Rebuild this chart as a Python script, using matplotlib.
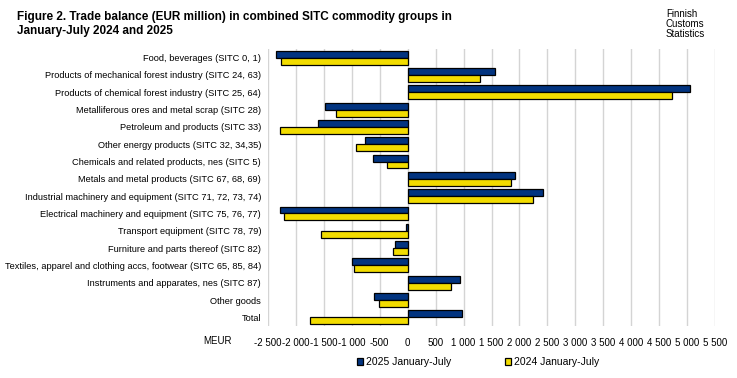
import matplotlib
matplotlib.use('Agg')
from matplotlib import pyplot as plt
from matplotlib.ticker import FuncFormatter
import numpy as np

plt.rcParams['font.family'] = ['Liberation Sans', 'DejaVu Sans']

categories = [
    'Food, beverages (SITC 0, 1)',
    'Products of mechanical forest industry (SITC 24, 63)',
    'Products of chemical forest industry (SITC 25, 64)',
    'Metalliferous ores and metal scrap (SITC 28)',
    'Petroleum and products (SITC 33)',
    'Other energy products (SITC 32, 34,35)',
    'Chemicals and related products, nes (SITC 5)',
    'Metals and metal products (SITC 67, 68, 69)',
    'Industrial machinery and equipment (SITC 71, 72, 73, 74)',
    'Electrical machinery and equipment (SITC 75, 76, 77)',
    'Transport equipment (SITC 78, 79)',
    'Furniture and parts thereof (SITC 82)',
    'Textiles, apparel and clothing accs, footwear (SITC 65, 85, 84)',
    'Instruments and apparates, nes (SITC 87)',
    'Other goods',
    'Total',
]
values_2025 = [-2357, 1561, 5061, -1482, -1600, -761, -625, 1929,
               2418, -2279, -30, -232, -1000, 929, -600, 971]
values_2024 = [-2262, 1286, 4733, -1279, -2279, -922, -375, 1846,
               2240, -2215, -1554, -261, -964, 775, -518, -1750]
ticks = list(range(-2500, 6000, 500))

navy = '#023480'
yellow = '#F2DC00'

fig = plt.figure(figsize=(7.37, 3.78), dpi=100)
ax = fig.add_axes([268 / 737, 1 - 326 / 378, (715 - 268) / 737, (326 - 49) / 378])

y = np.arange(len(categories))
h = 0.4
ax.barh(y - h / 2, values_2025, height=h, color=navy, edgecolor='black',
        linewidth=0.9, label='2025 January-July', zorder=3)
ax.barh(y + h / 2, values_2024, height=h, color=yellow, edgecolor='black',
        linewidth=0.9, label='2024 January-July', zorder=3)

ax.set_ylim(len(categories) - 0.5, -0.5)
ax.set_xlim(-2500, 5500)
ax.set_yticks(y)
ax.set_yticklabels(categories, fontsize=6.7)
ax.set_xticks(ticks)
ax.xaxis.set_major_formatter(FuncFormatter(
    lambda v, p: '{:,.0f}'.format(v).replace(',', ' ')))
ax.tick_params(axis='x', labelsize=7, length=0, pad=9)
ax.tick_params(axis='y', length=0, pad=5)
ax.grid(axis='x', color='#d4d4d4', linewidth=1, zorder=0)
for s in ax.spines.values():
    s.set_visible(False)

fig.text(203 / 737, 1 - 341 / 378, 'MEUR', fontsize=7, va='center')

fig.text(17 / 737, 1 - 17 / 378, 'Figure 2. Trade balance (EUR million) in combined SITC commodity groups in',
         fontsize=8.5, fontweight='bold', va='center')
fig.text(17 / 737, 1 - 31 / 378, 'January-July 2024 and 2025',
         fontsize=8.5, fontweight='bold', va='center')
fig.text(666 / 737, 1 - 9 / 378, 'Finnish\nCustoms\nStatistics', fontsize=7,
         va='top', linespacing=1.0)

fig.legend(loc='center', bbox_to_anchor=(478 / 737, 1 - 362 / 378), ncol=2,
           fontsize=7.5, frameon=False, handlelength=0.6, handleheight=0.6,
           handletextpad=0.3, columnspacing=5.1)

plt.savefig('out.png', dpi=100)
